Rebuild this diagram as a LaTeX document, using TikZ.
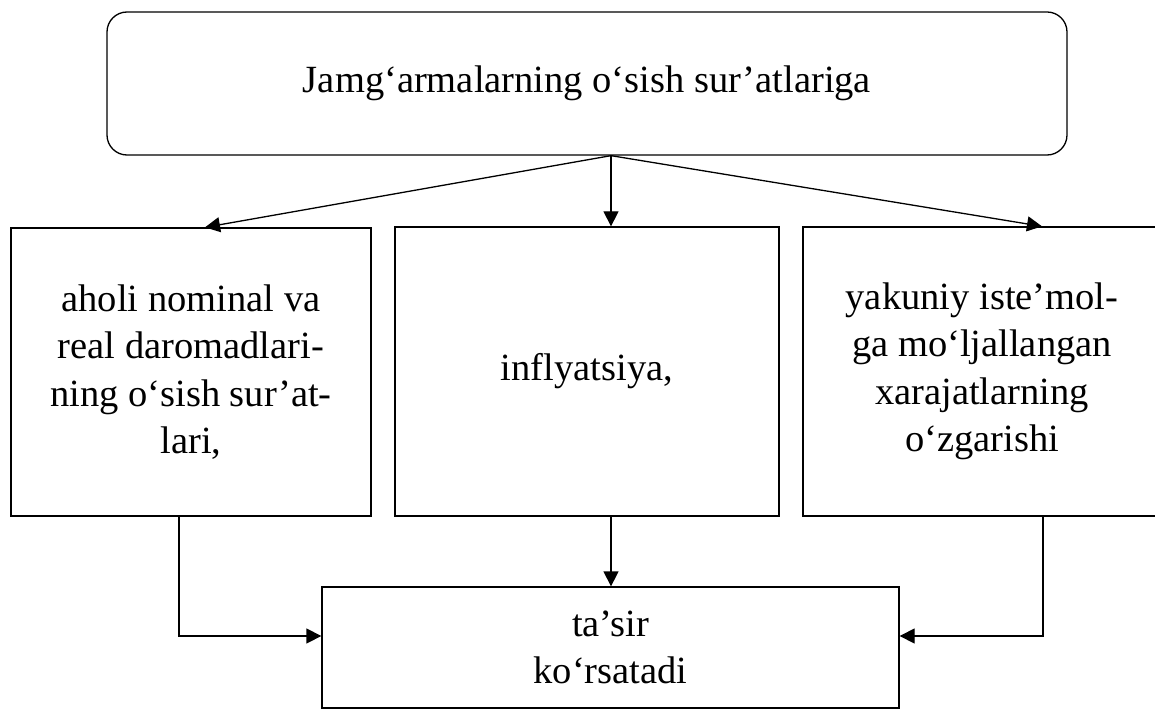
\documentclass[tikz,border=0pt]{standalone}
\usepackage{fontspec}
\setmainfont{Liberation Serif}
\usetikzlibrary{arrows.meta}
\begin{document}
\begin{tikzpicture}[x=1pt,y=-1pt,
  box/.style={draw,line width=1.3pt,inner sep=0pt,align=center,
    font=\fontsize{38.5}{47.5}\selectfont},
  conn/.style={line width=1.3pt,-{Triangle[length=15pt,width=15pt]}}]
\clip (0,0) rectangle (1155,711);
\fill[white] (0,0) rectangle (1155,711);
\node[box,rounded corners=20pt,minimum width=960pt,minimum height=143pt] (top) at (587,83.5) {Jamg‘armalarning o‘sish sur’atlariga};
\node[box,minimum width=360pt,minimum height=288pt] (bl) at (191,372) {aholi nominal va\\real daromadlari-\\ning o‘sish sur’at-\\lari,};
\node[box,minimum width=384pt,minimum height=289pt] (bm) at (587,371.5) {inflyatsiya,};
\node[box,minimum width=358pt,minimum height=289pt] (br) at (982,371.5) {yakuniy iste’mol-\\ga mo‘ljallangan\\xarajatlarning\\o‘zgarishi};
\node[box,minimum width=577pt,minimum height=121pt] (bot) at (610.5,647.5) {ta’sir\\ko‘rsatadi};
\coordinate (fork) at ([xshift=24pt]top.south);
\draw[conn] (fork) -- ([xshift=14pt]bl.north);
\draw[conn] (fork) -- ([xshift=24pt]bm.north);
\draw[conn] (fork) -- ([xshift=60pt]br.north);
\draw[conn] ([xshift=24pt]bm.south) -- ([xshift=24pt]bm.south |- bot.north);
\draw[conn] ([xshift=-12pt]bl.south) |- ([yshift=11.5pt]bot.west);
\draw[conn] ([xshift=61pt]br.south) |- ([yshift=11.5pt]bot.east);
\end{tikzpicture}
\end{document}
